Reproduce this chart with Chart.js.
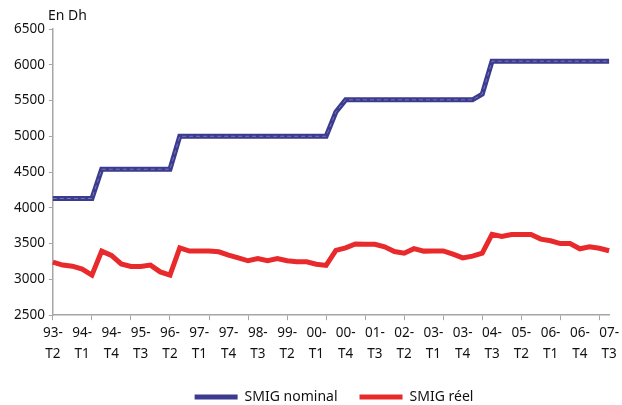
<!DOCTYPE html>
<html>
<head>
<meta charset="utf-8">
<script src="https://cdn.jsdelivr.net/npm/chart.js@4.4.1/dist/chart.umd.min.js"></script>
<style>
  html, body { margin: 0; padding: 0; background: #fff; }
  #wrap { width: 622px; height: 405px; }
</style>
</head>
<body>
<div id="wrap"><canvas id="myChart" width="622" height="405"></canvas></div>
<script>
// quarters 93-T2 .. 07-T3
var years = ['93','94','95','96','97','98','99','00','01','02','03','04','05','06','07'];
var quarters = [];
for (var y = 0; y < years.length; y++) {
    for (var q = 1; q <= 4; q++) {
        if (y === 0 && q < 2) continue;
        if (y === years.length - 1 && q > 3) continue;
        quarters.push(years[y] + '-T' + q);
    }
}

var smigNominal = [
    4130, 4130, 4130, 4130, 4130,
    4540, 4540, 4540, 4540, 4540, 4540, 4540, 4540,
    5000, 5000, 5000, 5000, 5000, 5000, 5000, 5000,
    5000, 5000, 5000, 5000, 5000, 5000, 5000, 5000,
    5340,
    5510, 5510, 5510, 5510, 5510, 5510, 5510, 5510,
    5510, 5510, 5510, 5510, 5510, 5510,
    5590,
    6050, 6050, 6050, 6050, 6050, 6050, 6050, 6050,
    6050, 6050, 6050, 6050, 6050
];

var smigReel = [
    3240, 3200, 3185, 3145, 3060, 3395, 3335, 3215, 3180, 3180,
    3200, 3105, 3060, 3440, 3395, 3395, 3395, 3385, 3340, 3300,
    3260, 3290, 3260, 3290, 3260, 3245, 3245, 3212, 3195, 3405,
    3440, 3495, 3492, 3490, 3455, 3390, 3366, 3430, 3395, 3398,
    3398, 3352, 3300, 3325, 3366, 3630, 3600, 3628, 3628, 3628,
    3563, 3540, 3500, 3500, 3428, 3455, 3435, 3400
];

var yTicks = [2500, 3000, 3500, 4000, 4500, 5000, 5500, 6000, 6500];

var blue = '#3b3b8f';
var red = '#e82a2c';
var axisGrey = '#a6a6a6';
var textColor = '#111';
var font = "'Noto Sans', sans-serif";

// "En Dh" unit label above the y axis
var unitLabel = {
    id: 'unitLabel',
    afterDraw: function(chart) {
        var ctx = chart.ctx;
        ctx.save();
        ctx.font = '14px ' + font;
        ctx.fillStyle = textColor;
        ctx.textAlign = 'left';
        ctx.textBaseline = 'middle';
        ctx.fillText('En Dh', chart.chartArea.left - 5, chart.chartArea.top - 13);
        ctx.restore();
    }
};

// the original legend sits a bit right of centre
var legendShift = {
    id: 'legendShift',
    afterLayout: function(chart) {
        chart.legend.left += 18;
        chart.legend.right += 18;
    }
};

var ctx = document.getElementById('myChart').getContext('2d');
var myChart = new Chart(ctx, {
    type: 'line',
    data: {
        labels: quarters,
        datasets: [
            {
                label: 'SMIG nominal',
                data: smigNominal,
                borderColor: blue,
                backgroundColor: blue,
                borderWidth: 5,
                pointRadius: 0,
                tension: 0,
                order: 2
            },
            {
                label: 'overlay',
                data: smigNominal,
                borderColor: 'rgba(170,170,210,0.55)',
                borderWidth: 1,
                borderDash: [4, 3],
                pointRadius: 0,
                tension: 0,
                order: 1
            },
            {
                label: 'SMIG réel',
                data: smigReel,
                borderColor: red,
                backgroundColor: red,
                borderWidth: 5,
                pointRadius: 0,
                tension: 0,
                order: 3
            }
        ]
    },
    options: {
        responsive: false,
        animation: false,
        layout: { padding: { left: 10, right: 0, top: 29, bottom: -9 } },
        scales: {
            x: {
                offset: false,
                grid: {
                    drawOnChartArea: false,
                    drawTicks: true,
                    tickLength: 5,
                    color: function(c) {
                        return c.index % 4 === 0 ? axisGrey : 'rgba(0,0,0,0)';
                    }
                },
                border: { color: axisGrey, width: 1.5 },
                ticks: {
                    autoSkip: false,
                    maxRotation: 0,
                    padding: 3,
                    color: textColor,
                    font: { family: font, size: 13.5, lineHeight: 1.55 },
                    callback: function(v, i) {
                        if (i % 3 !== 0) return '';
                        var parts = quarters[i].split('-');
                        return [parts[0] + '-', parts[1]];
                    }
                }
            },
            y: {
                min: 2500,
                max: 6500,
                afterBuildTicks: function(axis) {
                    axis.ticks = yTicks.map(function(v) { return { value: v }; });
                },
                grid: {
                    drawOnChartArea: false,
                    tickLength: 4,
                    color: axisGrey
                },
                border: { color: axisGrey, width: 1.5 },
                ticks: {
                    padding: 4,
                    color: textColor,
                    font: { family: font, size: 13.5 },
                    callback: function(v) { return String(v); }
                }
            }
        },
        plugins: {
            legend: {
                position: 'bottom',
                labels: {
                    boxWidth: 43,
                    boxHeight: 5,
                    padding: 22,
                    color: textColor,
                    font: { family: font, size: 14 },
                    filter: function(item) { return item.text !== 'overlay'; },
                    generateLabels: function(chart) {
                        var items = Chart.defaults.plugins.legend.labels.generateLabels(chart);
                        items.forEach(function(it) { it.lineWidth = 0; });
                        return items;
                    }
                }
            },
            tooltip: { enabled: false }
        }
    },
    plugins: [unitLabel, legendShift]
});
</script>
</body>
</html>
